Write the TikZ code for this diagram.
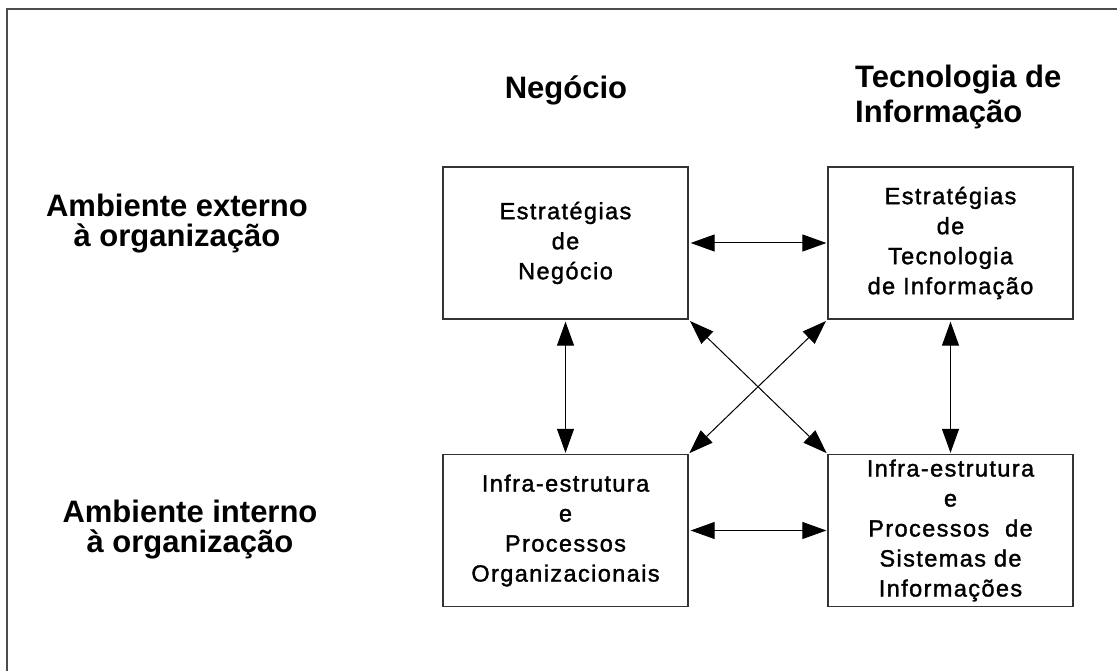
\documentclass[tikz,border=0pt]{standalone}
\usepackage{fontspec}
\setmainfont{Liberation Sans}
\newfontfamily\boxfont[LetterSpace=6,FakeBold=1.5]{Liberation Sans}
\usetikzlibrary{arrows.meta}

\tikzset{
  frameline/.style={line width=2pt, black!70},
  quadbox/.style={draw=black!80, line width=1.3pt, minimum width=245pt, minimum height=152pt,
    inner sep=0pt, align=center, font=\boxfont\fontsize{23.5}{30}\selectfont},
  headline/.style={anchor=base, inner sep=0pt, font=\bfseries\fontsize{31}{35}\selectfont},
  link/.style={line width=1pt, {Triangle[length=24pt,width=17pt]}-{Triangle[length=24pt,width=17pt]},
    shorten <=2pt, shorten >=1pt}
}

\begin{document}
\begin{tikzpicture}[x=1pt, y=-1pt]
  \useasboundingbox (0,0) rectangle (1117,671);

  % open frame along the top and left
  \coordinate (fbl) at (7,672);
  \coordinate (ftl) at (7,9);
  \coordinate (ftr) at (1118,9);
  \draw[frameline] (fbl) -- (ftl) -- (ftr);

  % column headings
  \node[headline] (hneg) at (566,99) {Negócio};
  \node[headline, anchor=base west] (hti1) at (855,88) {Tecnologia de};
  \node[headline, anchor=base west] (hti2) at (855,123) {Informação};

  % row headings
  \node[headline] (hext1) at (177,217) {Ambiente externo};
  \node[headline] (hext2) at (177,247) {à organização};
  \node[headline] (hint1) at (190,522) {Ambiente interno};
  \node[headline] (hint2) at (190,552) {à organização};

  % the four quadrants
  \node[quadbox] (en) at (565.5,243) {Estratégias\\de\\Negócio};
  \node[quadbox] (eti) at (950.5,243) {Estratégias\\de\\Tecnologia\\de Informação};
  \node[quadbox] (ipo) at (565.5,530.5) {Infra-estrutura\\e\\Processos\\Organizacionais};
  \node[quadbox] (ipsi) at (950.5,530.5) {Infra-estrutura\\e\\Processos\ \ de\\Sistemas de\\Informações};

  % two-way links
  \draw[link] (en.east) -- (eti.west);
  \draw[link] (ipo.east) -- (ipsi.west);
  \draw[link] (en.south) -- (ipo.north);
  \draw[link] (eti.south) -- (ipsi.north);
  \draw[link] (en.south east) -- (ipsi.north west);
  \draw[link] (eti.south west) -- (ipo.north east);
\end{tikzpicture}
\end{document}
